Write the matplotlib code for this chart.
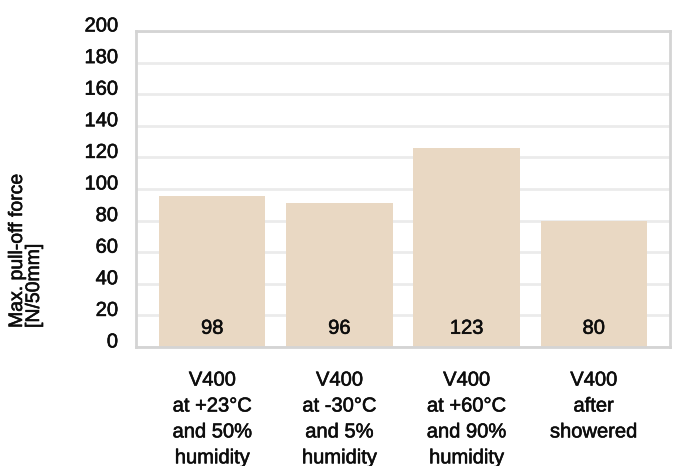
import matplotlib
matplotlib.use('Agg')
import matplotlib.pyplot as plt
import matplotlib.transforms as mtransforms
import matplotlib.patheffects as pe

# data
categories = ['V400\nat +23°C\nand 50%\nhumidity',
              'V400\nat -30°C\nand 5%\nhumidity',
              'V400\nat +60°C\nand 90%\nhumidity',
              'V400\nafter\nshowered']
bar_heights = [95.5, 91, 126, 80]
value_labels = ['98', '96', '123', '80']
yticks = [0, 20, 40, 60, 80, 100, 120, 140, 160, 180, 200]

plt.rcParams['font.family'] = ['Liberation Sans', 'DejaVu Sans']
fs = 14.5
txt = '#0d0d0d'
# the original text is drawn a touch heavier than Liberation Sans regular
heavy = [pe.withStroke(linewidth=0.4, foreground=txt)]

fig = plt.figure(figsize=(6.75, 4.66), dpi=100)
ax = fig.add_axes([136/675, 1-347/466, (670-136)/675, (347-31)/466])

x = range(len(categories))
ax.bar(x, bar_heights, width=0.835, color='#E9D8C3', zorder=2)

for i, t in enumerate(value_labels):
    ax.annotate(t, xy=(i, 0), xytext=(0, 13.5), textcoords='offset points',
                ha='center', va='center', fontsize=fs, color=txt, zorder=3,
                path_effects=heavy)

ax.set_xlim(-0.6, 3.6)
ax.set_ylim(0, 200)
ax.set_yticks(yticks)
ax.set_yticklabels([str(v) for v in yticks], fontsize=fs, color=txt)
ax.set_xticks(list(x))
ax.set_xticklabels(categories, fontsize=fs, color=txt, linespacing=1.46)
ax.tick_params(axis='y', length=0, pad=13)
ax.tick_params(axis='x', length=0, pad=17)

# y tick labels sit a bit above their gridlines
offset = mtransforms.ScaledTranslation(0, 7/100, fig.dpi_scale_trans)
for lab in ax.get_yticklabels():
    lab.set_transform(lab.get_transform() + offset)
    lab.set_path_effects(heavy)
for lab in ax.get_xticklabels():
    lab.set_path_effects(heavy)

ax.grid(axis='y', color='#EBEBEB', linewidth=2, zorder=1)
for s in ax.spines.values():
    s.set_color('#D4D4D4')
    s.set_linewidth(2)

fig.text(26/675, 1-328/466, 'Max. pull-off force\n[N/50mm]', rotation=90,
         ha='center', va='bottom', multialignment='left', fontsize=14,
         color=txt, linespacing=1.0, path_effects=heavy)

plt.savefig('out.png', dpi=100)
plt.close()
